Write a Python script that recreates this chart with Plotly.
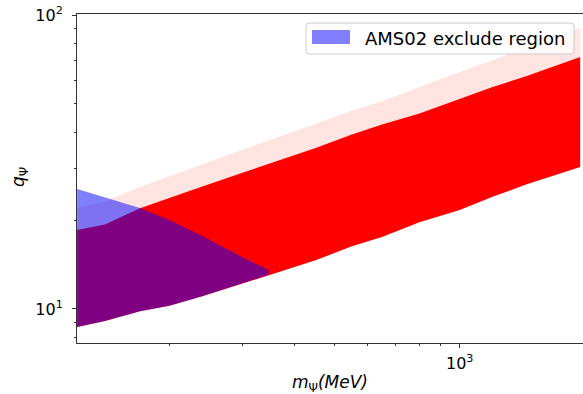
import plotly.graph_objects as go

# ---- data (MeV, dimensionless q) ----
mass = [120, 140, 170, 200, 240, 300, 350, 450, 550, 650, 800, 1000, 1200, 1450, 1700, 1950]
q_red_low = [8.68, 9.11, 9.83, 10.25, 11.04, 12.19, 13.11, 14.65, 16.34, 17.57, 19.73, 21.74, 24.1, 26.57, 28.59, 30.44]
q_red_up = [18.58, 19.4, 22.02, 23.87, 26.11, 29.09, 31.39, 35.34, 39.28, 42.49, 46.32, 51.88, 57.0, 62.14, 67.22, 72.11]
q_pink_up = [22.08, 23.28, 26.03, 28.3, 31.1, 34.89, 37.69, 42.62, 47.27, 50.96, 56.82, 64.13, 70.29, 77.63, 84.18, 90.53]

mass_ams = [120, 140, 170, 200, 240, 300, 347]
q_ams_low = [8.68, 9.11, 9.83, 10.25, 11.04, 12.19, 13.08]
q_ams_up = [25.62, 23.97, 22.06, 20.09, 17.73, 15.0, 13.58]

x_major = [1000]
x_major_text = ["10<sup>3</sup>"]
x_minor = [200, 300, 400, 500, 600, 700, 800, 900]
y_major = [10, 100]
y_major_text = ["10<sup>1</sup>", "10<sup>2</sup>"]
y_minor = [8, 9, 20, 30, 40, 50, 60, 70, 80, 90]

legend_label = "AMS02 exclude region"
AMS_COLOR = "rgba(0,0,255,0.5)"

W, H = 583, 394
L, R, T, B = 77, 0, 14, 51
PW, PH = W - L - R, H - T - B


def px(xp):
    return (xp - L) / PW


def py(yp):
    return (H - B - yp) / PH


fig = go.Figure()


def band(xs, lo, hi, color, name=None):
    return go.Scatter(
        x=list(xs) + list(xs)[::-1],
        y=list(lo) + list(hi)[::-1],
        fill="toself",
        fillcolor=color,
        line=dict(width=0),
        mode="lines",
        hoverinfo="skip",
        name=name,
        showlegend=False,
    )


fig.add_trace(band(mass, q_red_up, q_pink_up, "#ffe4e1"))
fig.add_trace(band(mass, q_red_low, q_red_up, "#ff0000"))
fig.add_trace(band(mass_ams, q_ams_low, q_ams_up, AMS_COLOR, legend_label))

axis_common = dict(
    showgrid=False,
    zeroline=False,
    showline=True,
    linecolor="#333333",
    linewidth=1,
    ticks="outside",
    ticklen=4,
    tickwidth=1,
    tickcolor="#333333",
    tickfont=dict(family="DejaVu Sans", size=16, color="black"),
)

# legend drawn as a box (matplotlib-style rounded frame with a patch swatch)
bx0, bx1, by0, by1 = px(306), px(574), py(54), py(23)
r = 3 / PW
rv = 3 / PH
box_path = (
    f"M {bx0 + r},{by1} L {bx1 - r},{by1} Q {bx1},{by1} {bx1},{by1 - rv} "
    f"L {bx1},{by0 + rv} Q {bx1},{by0} {bx1 - r},{by0} L {bx0 + r},{by0} "
    f"Q {bx0},{by0} {bx0},{by0 + rv} L {bx0},{by1 - rv} Q {bx0},{by1} {bx0 + r},{by1} Z"
)

shapes = [
    dict(type="path", xref="paper", yref="paper", path=box_path,
         fillcolor="rgba(255,255,255,0.8)", line=dict(color="#cccccc", width=1), layer="above"),
    dict(type="rect", xref="paper", yref="paper",
         x0=px(312), x1=px(350), y0=py(44), y1=py(30),
         fillcolor=AMS_COLOR, line=dict(width=0), layer="above"),
]

fig.update_layout(
    width=W,
    height=H,
    margin=dict(l=L, r=R, t=T, b=B, pad=0),
    paper_bgcolor="white",
    plot_bgcolor="white",
    font=dict(family="DejaVu Sans", color="black"),
    showlegend=False,
    xaxis=dict(
        type="log",
        range=[2.0789, 3.2968],
        tickmode="array",
        tickvals=x_major,
        ticktext=x_major_text,
        mirror=True,
        ticklabelstandoff=2,
        minor=dict(tickmode="array", tickvals=x_minor, ticks="outside", ticklen=2, tickcolor="#333333", showgrid=False),
        **axis_common,
    ),
    yaxis=dict(
        type="log",
        range=[0.8842, 2.0044],
        tickmode="array",
        tickvals=y_major,
        ticktext=y_major_text,
        ticklabelstandoff=6,
        minor=dict(tickmode="array", tickvals=y_minor, ticks="outside", ticklen=2, tickcolor="#333333", showgrid=False),
        **axis_common,
    ),
    shapes=shapes,
    annotations=[
        dict(
            text=legend_label,
            xref="paper", yref="paper",
            x=px(363), y=py(38),
            xanchor="left", yanchor="middle",
            showarrow=False,
            font=dict(family="DejaVu Sans", size=18, color="black"),
        ),
        dict(
            text="<i>m</i><sub>Ψ</sub><i>(MeV)</i>",
            xref="paper", yref="paper",
            x=0.5, y=py(383),
            xanchor="center", yanchor="middle",
            showarrow=False,
            font=dict(family="DejaVu Sans", size=17, color="black"),
        ),
        dict(
            text="<i>q</i><sub>Ψ</sub>",
            xref="paper", yref="paper",
            x=px(19), y=py(177),
            xanchor="center", yanchor="middle",
            textangle=-90,
            showarrow=False,
            font=dict(family="DejaVu Sans", size=17, color="black"),
        ),
    ],
)

fig.write_html("out.html")
